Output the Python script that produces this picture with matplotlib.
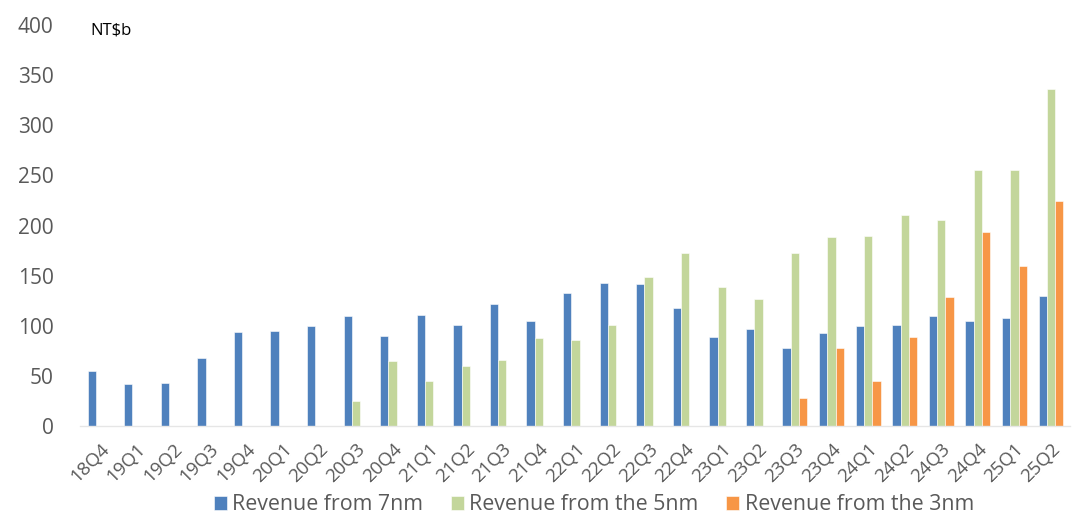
import matplotlib
matplotlib.use("Agg")
import matplotlib.pyplot as plt
import numpy as np

quarters = ["18Q4", "19Q1", "19Q2", "19Q3", "19Q4", "20Q1", "20Q2", "20Q3", "20Q4",
            "21Q1", "21Q2", "21Q3", "21Q4", "22Q1", "22Q2", "22Q3", "22Q4", "23Q1",
            "23Q2", "23Q3", "23Q4", "24Q1", "24Q2", "24Q3", "24Q4", "25Q1", "25Q2"]
rev_7nm = [55, 42, 43, 67.5, 94, 95, 99.5, 109.5, 89.5,
           111, 101, 122, 105, 132.5, 143, 142, 118, 89,
           97, 77.5, 92.5, 100, 100.5, 109.5, 105, 108, 130]
rev_5nm = [0, 0, 0, 0, 0, 0, 0, 25, 65,
           45, 60, 66, 88, 85.5, 100.5, 148.5, 172.5, 138.5,
           127, 173, 188.5, 190, 210, 205, 255.5, 255, 336.5]
rev_3nm = [0, 0, 0, 0, 0, 0, 0, 0, 0,
           0, 0, 0, 0, 0, 0, 0, 0, 0,
           0, 28, 78, 45, 89, 129, 194, 159.5, 224.5]
series_names = ["Revenue from 7nm", "Revenue from the 5nm", "Revenue from the 3nm"]
colors = ["#4F81BD", "#C3D69B", "#F79646"]

plt.rcParams['font.family'] = ['Open Sans', 'DejaVu Sans']

fig = plt.figure(figsize=(10.8, 5.29), dpi=100)
ax = fig.add_axes([80/1080, 1-426/529, 990/1080, 401/529])

x = np.arange(len(quarters))
w = 0.227
for i, (vals, name, c) in enumerate(zip([rev_7nm, rev_5nm, rev_3nm], series_names, colors)):
    ax.bar(x + (i - 1) * w, vals, width=w, color=c, label=name, edgecolor='white', linewidth=0.4)

ax.set_xlim(-0.547, 26.52)
ax.set_ylim(0, 400)
ax.set_yticks(np.arange(0, 401, 50))
ax.set_xticks(x)
ax.set_xticklabels(quarters, rotation=45, ha='right', rotation_mode='anchor')
ax.tick_params(axis='x', length=0, labelsize=13.5, labelcolor='#595959', pad=10)
ax.tick_params(axis='y', length=0, labelsize=15, labelcolor='#595959', pad=19)

for s in ['top', 'right', 'left']:
    ax.spines[s].set_visible(False)
ax.spines['bottom'].set_color('#E6E6E6')
ax.spines['bottom'].set_linewidth(1)

fig.text(90/1080, 1-30/529, "NT$b", fontsize=12, color='black', va='center', ha='left')

leg = fig.legend(loc='center', bbox_to_anchor=(594/1080, 1-505/529), ncol=3, frameon=False,
                 fontsize=15.4, labelcolor='#595959', handlelength=0.6, handleheight=0.6,
                 handletextpad=0.25, columnspacing=1.3)

fig.savefig("out.png", dpi=100)
